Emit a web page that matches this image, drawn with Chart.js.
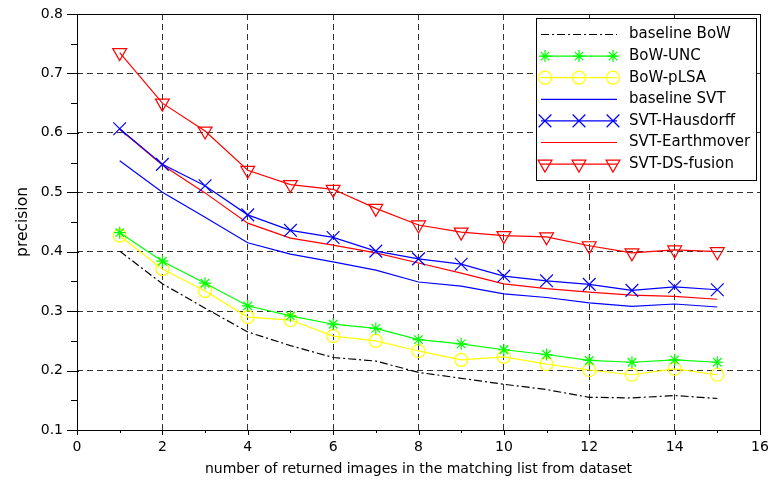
<!DOCTYPE html>
<html>
<head>
<meta charset="utf-8">
<script src="https://cdn.jsdelivr.net/npm/chart.js@4/dist/chart.umd.min.js"></script>
<style>
  html, body { margin: 0; padding: 0; background: #fff; }
  canvas { display: block; }
</style>
</head>
<body>
<canvas id="myChart" width="771" height="480"></canvas>
<script>
// values
const xValues = [1, 2, 3, 4, 5, 6, 7, 8, 9, 10, 11, 12, 13, 14, 15]
const baselineBoW = [0.401, 0.346, 0.305, 0.265, 0.242, 0.222, 0.216, 0.197, 0.187, 0.177, 0.168, 0.155, 0.154, 0.158, 0.153]
const bowUNC = [0.432, 0.384, 0.347, 0.309, 0.292, 0.278, 0.271, 0.252, 0.245, 0.235, 0.227, 0.217, 0.214, 0.218, 0.214]
const bowPLSA = [0.427, 0.371, 0.334, 0.290, 0.285, 0.258, 0.250, 0.233, 0.218, 0.223, 0.211, 0.201, 0.193, 0.203, 0.193]
const baselineSVT = [0.553, 0.500, 0.458, 0.415, 0.396, 0.383, 0.369, 0.349, 0.342, 0.329, 0.323, 0.314, 0.308, 0.312, 0.307]
const svtHausdorff = [0.607, 0.547, 0.511, 0.462, 0.436, 0.424, 0.401, 0.388, 0.379, 0.359, 0.351, 0.345, 0.335, 0.341, 0.336]
const svtEarthmover = [0.606, 0.546, 0.499, 0.448, 0.423, 0.411, 0.398, 0.381, 0.364, 0.346, 0.338, 0.332, 0.327, 0.325, 0.320]
const svtDSfusion = [0.735, 0.650, 0.603, 0.537, 0.513, 0.505, 0.473, 0.445, 0.433, 0.427, 0.425, 0.410, 0.398, 0.403, 0.400]
const xTicks = [0, 2, 4, 6, 8, 10, 12, 14, 16]
const yTicks = [0.1, 0.2, 0.3, 0.4, 0.5, 0.6, 0.7, 0.8]

const FONT = "'DejaVu Sans', sans-serif"

const series = [
	{ label: 'baseline BoW', data: baselineBoW, color: '#000000', dash: [8, 3, 2, 3], marker: null },
	{ label: 'BoW-UNC', data: bowUNC, color: '#00ff00', dash: [], marker: 'star', size: 6 },
	{ label: 'BoW-pLSA', data: bowPLSA, color: '#ffff00', dash: [], marker: 'circle', size: 6.5 },
	{ label: 'baseline SVT', data: baselineSVT, color: '#0000ff', dash: [], marker: null },
	{ label: 'SVT-Hausdorff', data: svtHausdorff, color: '#0000ff', dash: [], marker: 'crossRot', size: 9 },
	{ label: 'SVT-Earthmover', data: svtEarthmover, color: '#ff0000', dash: [], marker: null },
	{ label: 'SVT-DS-fusion', data: svtDSfusion, color: '#ff0000', dash: [], marker: 'triangle', size: 8 },
]

function drawMarker(ctx, kind, x, y, r, color) {
	ctx.save()
	ctx.strokeStyle = color
	ctx.lineWidth = 1.2
	ctx.setLineDash([])
	ctx.beginPath()
	if (kind == 'circle') {
		ctx.arc(x, y, r, 0, Math.PI * 2)
	} else if (kind == 'triangle') {
		// pointing down
		const h = r * 0.5
		ctx.moveTo(x, y + r)
		ctx.lineTo(x - r * 0.866, y - h)
		ctx.lineTo(x + r * 0.866, y - h)
		ctx.closePath()
	} else if (kind == 'crossRot') {
		const o = r * 0.707
		ctx.moveTo(x - o, y - o); ctx.lineTo(x + o, y + o)
		ctx.moveTo(x - o, y + o); ctx.lineTo(x + o, y - o)
	} else if (kind == 'star') {
		ctx.moveTo(x, y - r); ctx.lineTo(x, y + r)
		ctx.moveTo(x - r, y); ctx.lineTo(x + r, y)
		const o = r * 0.707
		ctx.moveTo(x - o, y - o); ctx.lineTo(x + o, y + o)
		ctx.moveTo(x - o, y + o); ctx.lineTo(x + o, y - o)
	}
	ctx.stroke()
	ctx.restore()
}

const framePlugin = {
	id: 'frame',
	afterDraw(chart) {
		const ctx = chart.ctx
		const a = chart.chartArea
		const xs = chart.scales.x
		const ys = chart.scales.y
		ctx.save()
		ctx.strokeStyle = '#000'
		ctx.lineWidth = 1
		ctx.setLineDash([])
		ctx.strokeRect(Math.round(a.left) + 0.5, Math.round(a.top) + 0.5, Math.round(a.right - a.left), Math.round(a.bottom - a.top))
		// outward ticks, left and bottom only
		ctx.beginPath()
		for (let v = 0; v <= 16; v += 1) {
			const px = Math.round(xs.getPixelForValue(v)) + 0.5
			const len = v % 2 == 0 ? 5 : 3
			ctx.moveTo(px, a.bottom); ctx.lineTo(px, a.bottom + len)
		}
		for (let i = 0; i <= 14; i++) {
			const v = 0.1 + i * 0.05
			const py = Math.round(ys.getPixelForValue(v)) + 0.5
			const len = i % 2 == 0 ? 10 : 6
			ctx.moveTo(a.left + (i % 2 == 0 ? 2 : 0), py); ctx.lineTo(a.left - len, py)
		}
		ctx.stroke()

		// legend box
		const lx = 536, ly = 18, lw = 220, lh = 162
		ctx.fillStyle = '#fff'
		ctx.fillRect(lx, ly, lw, lh)
		ctx.strokeRect(lx + 0.5, ly + 0.5, lw, lh)
		ctx.font = '15px ' + FONT
		ctx.textBaseline = 'middle'
		ctx.textAlign = 'left'
		series.forEach((s, i) => {
			const y = ly + 16.5 + i * 21.6
			ctx.save()
			ctx.strokeStyle = s.color
			ctx.lineWidth = 1.2
			ctx.setLineDash(s.dash)
			ctx.beginPath()
			ctx.moveTo(541, y); ctx.lineTo(617, y)
			ctx.stroke()
			ctx.restore()
			if (s.marker) {
				[545, 579, 613].forEach(mx => drawMarker(ctx, s.marker, mx, y, s.size, s.color))
			}
			ctx.fillStyle = '#000'
			ctx.fillText(s.label, 629, y)
		})
		ctx.restore()
	}
}

const ctx = document.getElementById('myChart')

new Chart(ctx, {
	type: 'line',
	data: {
		datasets: series.map(s => ({
			label: s.label,
			data: s.data.map((v, i) => ({ x: xValues[i], y: v })),
			borderColor: s.color,
			backgroundColor: 'transparent',
			borderWidth: 1.2,
			borderDash: s.dash,
			pointStyle: s.marker || false,
			pointRadius: s.marker ? s.size : 0,
			pointRotation: s.marker == 'triangle' ? 180 : 0,
			pointBorderColor: s.color,
			pointBackgroundColor: 'transparent',
			pointBorderWidth: 1.2,
			tension: 0,
		})),
	},
	options: {
		responsive: false,
		animation: false,
		events: [],
		layout: {
			padding: { top: 14, right: 11, left: 0, bottom: 0 },
		},
		plugins: {
			legend: { display: false },
			tooltip: { enabled: false },
		},
		scales: {
			x: {
				type: 'linear',
				min: 0,
				max: 16,
				afterBuildTicks: s => { s.ticks = xTicks.map(v => ({ value: v })) },
				afterFit: s => { s.height = 50; s.paddingLeft = 0; s.paddingRight = 0 },
				ticks: {
					color: '#000',
					font: { family: FONT, size: 14 },
					padding: 9,
					maxRotation: 0,
					autoSkip: false,
				},
				grid: { color: '#333', lineWidth: 1, drawTicks: false },
				border: { display: false, dash: [6, 4] },
				title: {
					display: true,
					text: 'number of returned images in the matching list from dataset',
					color: '#000',
					font: { family: FONT, size: 14 },
					padding: { top: 0, bottom: 2 },
				},
			},
			y: {
				type: 'linear',
				min: 0.1,
				max: 0.8,
				afterBuildTicks: s => { s.ticks = yTicks.map(v => ({ value: v })) },
				afterFit: s => { s.width = 77; s.paddingTop = 0; s.paddingBottom = 0 },
				ticks: {
					color: '#000',
					font: { family: FONT, size: 14 },
					padding: 14,
					callback: v => v.toFixed(1),
				},
				grid: { color: '#333', lineWidth: 1, drawTicks: false },
				border: { display: false, dash: [6, 4] },
				title: {
					display: true,
					text: 'precision',
					color: '#000',
					font: { family: FONT, size: 15.5 },
					padding: { top: 14, bottom: 0 },
				},
			},
		},
	},
	plugins: [framePlugin],
})
</script>
</body>
</html>
